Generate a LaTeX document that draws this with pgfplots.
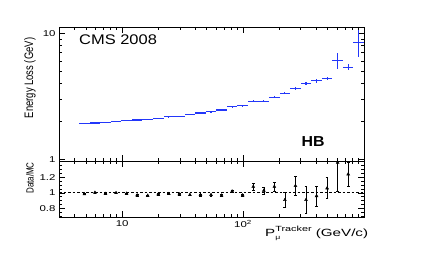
\documentclass[border=0pt]{standalone}
\usepackage{pgfplots}
\pgfplotsset{compat=1.18}
\usepackage{pgfplotstable}
\usepackage{graphicx}
\usepackage{fontspec}
\setmainfont{Liberation Sans}
\definecolor{rootblue}{RGB}{35,55,250}
\newcommand\sx[1]{\scalebox{1.35}[1]{#1}}

\pgfplotstableread{
x      y     xm     xp     eym   eyp
4.865  1.93  0.465  0.514  0     0
5.948  1.94  0.569  0.629  0     0
7.272  1.97  0.695  0.769  0     0
8.891  2.00  0.850  0.940  0     0
10.87  2.04  1.039  1.149  0     0
13.29  2.05  1.271  1.405  0     0
16.25  2.08  1.554  1.718  0     0
19.87  2.12  1.899  2.101  0     0
24.29  2.17  2.322  2.568  0.01  0.01
29.70  2.20  2.839  3.140  0.01  0.01
36.31  2.27  3.471  3.839  0.01  0.01
44.39  2.33  4.244  4.694  0.015 0.015
54.28  2.38  5.189  5.739  0.015 0.015
66.36  2.46  6.344  7.016  0.02  0.02
81.14  2.61  7.756  8.578  0.03  0.03
99.19  2.65  9.482  10.49  0.03  0.03
121.3  2.89  11.60  12.82  0.04  0.04
148.3  2.89  14.17  15.68  0.04  0.04
181.2  3.11  17.32  19.16  0.06  0.06
221.6  3.35  21.18  23.43  0.08  0.08
270.9  3.67  25.90  28.64  0.10  0.10
331.3  4.00  31.67  35.02  0.12  0.12
405.0  4.19  38.72  42.82  0.13  0.13
495.1  4.37  47.33  52.35  0.14  0.14
605.4  6.12  57.87  64.00  0.93  0.90
740.2  5.38  70.76  78.25  0.28  0.30
904.9  8.43  86.50  95.67  1.90  2.20
}\eloss

\pgfplotstableread{
x      r      e
4.865  0.985  0.008
5.948  1.004  0.008
7.272  0.988  0.008
8.891  1.000  0.008
10.87  0.992  0.008
13.29  0.970  0.010
16.25  0.966  0.010
19.87  0.983  0.010
24.29  0.987  0.010
29.70  0.983  0.010
36.31  0.975  0.010
44.39  0.975  0.012
54.28  0.975  0.012
66.36  0.968  0.015
81.14  1.020  0.015
99.19  0.970  0.015
121.3  1.080  0.050
148.3  1.030  0.045
181.2  1.080  0.055
221.6  0.910  0.095
270.9  1.090  0.120
331.3  0.910  0.170
405.0  0.960  0.130
495.1  1.060  0.135
605.4  1.390  0.370
740.2  1.240  0.160
}\ratio

\begin{document}
\begin{tikzpicture}
\path[use as bounding box] (0bp,0bp) rectangle (432bp,257bp);

\begin{axis}[scale only axis, xmode=log, xmin=3, xmax=1000,
  tick align=inside, xtick pos=both, ytick pos=both,
  axis line style={line width=0.8bp},
  major tick length=6bp, minor tick length=3bp,
  every tick/.append style={black, line width=0.6bp},
  tick label style={font=\fontsize{8.5}{9}\selectfont},
  xtick={10,100},
  minor xtick={3,4,5,6,7,8,9,20,30,40,50,60,70,80,90,200,300,400,500,600,700,800,900},
  at={(59bp,96bp)}, anchor=south west,
  width=305bp, height=134bp,
  ymode=log, ymin=0.97, ymax=11.2,
  ytick={1,10}, yticklabels={\sx{1},\sx{10}},
  minor ytick={2,3,4,5,6,7,8,9},
  xticklabels={}]
\addplot[rootblue, draw=none, mark=none,
  error bars/.cd, x dir=both, x explicit, y dir=both, y explicit,
  error mark=none,
  error bar style={draw=rootblue, solid, line width=1.1bp}]
  table[x=x, y=y, x error minus=xm, x error plus=xp,
        y error minus=eym, y error plus=eyp] {\eloss};
\end{axis}

\begin{axis}[scale only axis, xmode=log, xmin=3, xmax=1000,
  tick align=inside, xtick pos=both, ytick pos=both,
  axis line style={line width=0.8bp},
  major tick length=6bp, minor tick length=3bp,
  every tick/.append style={black, line width=0.6bp},
  tick label style={font=\fontsize{8.5}{9}\selectfont},
  xtick={10,100},
  minor xtick={3,4,5,6,7,8,9,20,30,40,50,60,70,80,90,200,300,400,500,600,700,800,900},
  at={(59bp,40bp)}, anchor=south west,
  width=305bp, height=56bp,
  ymin=0.69, ymax=1.41,
  ytick={0.8,1,1.2}, yticklabels={\sx{0.8},\sx{1},\sx{1.2}},
  minor ytick={0.7,0.75,0.85,0.9,0.95,1.05,1.1,1.15,1.25,1.3,1.35,1.4},
  xticklabels={\sx{10},\sx{10\textsuperscript{2}}}]
\addplot[black, line width=0.8bp, dash pattern=on 2.5bp off 2bp] coordinates {(3,1) (1000,1)};
\addplot[black, only marks, mark=triangle*, mark size=1.7bp,
  error bars/.cd, y dir=both, y explicit,
  error mark options={rotate=90, mark size=1.4bp, line width=0.5bp, black},
  error bar style={black, solid, line width=0.6bp}]
  table[x=x, y=r, y error=e] {\ratio};
\end{axis}

\node[anchor=base west, inner sep=0] at (79bp,212bp)
  {\scalebox{1.18}[1]{\fontsize{14}{16}\selectfont CMS 2008}};
\node[anchor=center, inner sep=0] at (313bp,115bp)
  {\scalebox{1.1}[1]{\fontsize{14.5}{16}\selectfont\bfseries HB}};
\node[rotate=90, anchor=center, inner sep=0] at (30bp,179bp)
  {\scalebox{1}[1.3]{\fontsize{9.5}{11}\selectfont Energy Loss (GeV)}};
\node[rotate=90, anchor=center, inner sep=0] at (30bp,79bp)
  {\scalebox{1}[1.3]{\fontsize{8}{9}\selectfont Data/MC}};
\node[anchor=base west, inner sep=0] at (265bp,21bp)
  {\scalebox{1.45}[1]{\fontsize{10.5}{12}\selectfont P\rlap{\raisebox{-3bp}{\fontsize{6}{7}\selectfont μ}}\raisebox{5bp}{\fontsize{7.5}{8}\selectfont Tracker} (GeV/c)}};
\end{tikzpicture}
\end{document}
